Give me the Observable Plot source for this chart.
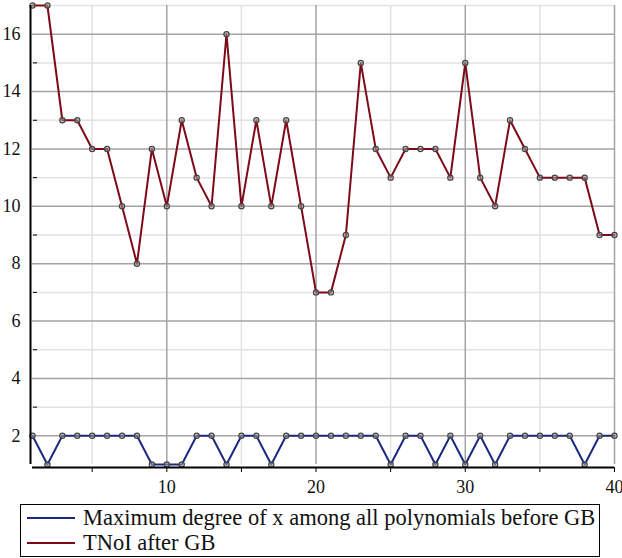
<!DOCTYPE html>
<html>
<head>
<meta charset="utf-8">
<script src="https://cdn.jsdelivr.net/npm/d3@7"></script>
<script src="https://cdn.jsdelivr.net/npm/@observablehq/plot@0.6"></script>
<style>
  body { margin: 0; background: #fff; }
  #chart { width: 622px; }
  #chart svg { display: block; }
  #chart svg text { font-family: "Liberation Serif", "Times New Roman", Times, "DejaVu Serif", serif !important; }
  #legend { margin-left: 20px; margin-top: 4px; width: 580px; height: 53px; box-sizing: border-box;
    border: 1.5px solid #000; font-family: "Liberation Serif", "Times New Roman", Times, "DejaVu Serif", serif; font-size: 22.5px; color: #111;
    padding: 0 0 0 6px; line-height: 25px; white-space: nowrap; }
  .row { display: flex; align-items: center; }
  .sw { width: 48px; height: 0; border-top: 2px solid; margin-right: 8px; }
</style>
</head>
<body>
<div id="chart"></div>
<div id="legend"></div>
<script>
const xIndex = [1,2,3,4,5,6,7,8,9,10,11,12,13,14,15,16,17,18,19,20,21,22,23,24,25,26,27,28,29,30,31,32,33,34,35,36,37,38,39,40];
const tnoi = [17,17,13,13,12,12,10,8,12,10,13,11,10,16,10,13,10,13,10,7,7,9,15,12,11,12,12,12,11,15,11,10,13,12,11,11,11,11,9,9];
const maxDeg = [2,1,2,2,2,2,2,2,1,1,1,2,2,1,2,2,1,2,2,2,2,2,2,2,1,2,2,1,2,1,2,1,2,2,2,2,2,1,2,2];
const xMajor = [10,20,30,40];
const xMinor = [5,15,25,35];
const yMajor = [2,4,6,8,10,12,14,16];
const yMinor = [3,5,7,9,11,13,15,17];
const seriesNames = ["Maximum degree of x among all polynomials before GB", "TNoI after GB"];
const seriesColors = ["#1b2a80", "#7d0a16"];

const red = xIndex.map((x, i) => ({x, y: tnoi[i]}));
const blue = xIndex.map((x, i) => ({x, y: maxDeg[i]}));

const plot = Plot.plot({
  width: 622,
  height: 500,
  marginLeft: 32,
  marginRight: 8,
  marginTop: 5,
  marginBottom: 36,
  style: {fontSize: "18px", background: "#fff", overflow: "visible"},
  x: {type: "linear", domain: [1, 40]},
  y: {type: "linear", domain: [1, 17]},
  marks: [
    Plot.ruleX(xMinor, {stroke: "#e2e2e2", strokeWidth: 1.5}),
    Plot.ruleY(yMinor, {stroke: "#e2e2e2", strokeWidth: 1.5}),
    Plot.ruleX(xMajor, {stroke: "#a3a3a3", strokeWidth: 1.5}),
    Plot.ruleY(yMajor, {stroke: "#a3a3a3", strokeWidth: 1.5}),
    Plot.axisX({ticks: [5,10,15,20,25,30,35,40], tickSize: 5, tickPadding: 8, fontSize: 18, tickFormat: d => d % 10 === 0 ? String(d) : "", label: null, dy: 3, fill: "#111"}),
    Plot.axisY({ticks: yMajor, tickSize: 0, tickPadding: 12, fontSize: 18, tickFormat: d => String(d), label: null, fill: "#111"}),
    Plot.axisY({ticks: yMinor, tickSize: 4, tickFormat: () => "", label: null, dx: 5}),
    Plot.line(blue, {x: "x", y: "y", stroke: seriesColors[0], strokeWidth: 2}),
    Plot.line(red, {x: "x", y: "y", stroke: seriesColors[1], strokeWidth: 2}),
    Plot.dot(blue, {x: "x", y: "y", r: 2.6, fill: "#aaa", fillOpacity: 0.5, stroke: "#444", strokeWidth: 1.2}),
    Plot.dot(red, {x: "x", y: "y", r: 2.6, fill: "#aaa", fillOpacity: 0.5, stroke: "#444", strokeWidth: 1.2}),
    Plot.ruleY([1], {stroke: "#000", strokeWidth: 2, dy: 3}),
    Plot.ruleX([1], {stroke: "#000", strokeWidth: 2, dx: -2})
  ]
});
document.getElementById("chart").appendChild(plot);
const legend = document.getElementById("legend");
seriesNames.forEach((name, i) => {
  const row = document.createElement("div");
  row.className = "row";
  const sw = document.createElement("div");
  sw.className = "sw";
  sw.style.borderColor = seriesColors[i];
  const t = document.createElement("span");
  t.textContent = name;
  row.appendChild(sw);
  row.appendChild(t);
  legend.appendChild(row);
});
</script>
</body>
</html>
